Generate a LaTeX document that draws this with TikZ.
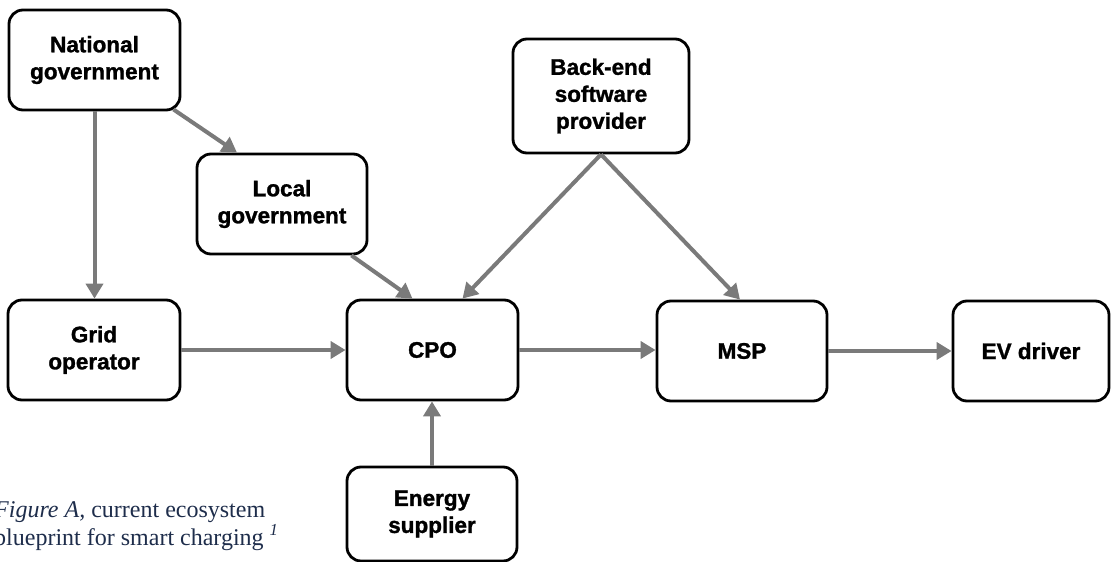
\documentclass[tikz,border=0pt]{standalone}
\usepackage{fontspec}
\setmainfont{Liberation Serif}
\newfontfamily\boxfont[BoldFeatures={FakeBold=1.3}]{Liberation Sans}
\usetikzlibrary{arrows.meta}
\definecolor{linkgray}{RGB}{122,122,122}
\definecolor{captionblue}{RGB}{30,45,75}

\begin{document}
\begin{tikzpicture}[x=1pt,y=-1pt,
  box/.style={draw=black, line width=2.8pt, rounded corners=14pt, fill=white,
    inner sep=0pt, align=center,
    font=\boxfont\bfseries\fontsize{22.5}{27}\selectfont},
  link/.style={draw=linkgray, line width=4pt,
    -{Triangle[length=15pt,width=17pt]}},
  caption/.style={anchor=base west, inner sep=0pt, text=captionblue,
    font=\fontsize{24}{28}\selectfont}]

\useasboundingbox (0,0) rectangle (1114,562);

% actors
\node[box, minimum width=171pt, minimum height=100pt] (ng)  at (94.5,60)  {National\\government};
\node[box, minimum width=170pt, minimum height=100pt] (lg)  at (282,204)  {Local\\government};
\node[box, minimum width=176pt, minimum height=114pt] (bes) at (601,96)   {Back-end\\software\\provider};
\node[box, minimum width=172pt, minimum height=100pt] (go)  at (94,350)   {Grid\\operator};
\node[box, minimum width=171pt, minimum height=100pt] (cpo) at (432.5,350) {CPO};
\node[box, minimum width=170pt, minimum height=100pt] (msp) at (742,351)  {MSP};
\node[box, minimum width=156pt, minimum height=100pt] (ev)  at (1031,351) {EV driver};
\node[box, minimum width=170pt, minimum height=94pt]  (es)  at (432,514)  {Energy\\supplier};

% relations
\draw[link] (ng.south) -- (ng.south |- go.north);
\draw[link] ([xshift=-8pt,yshift=2pt]ng.south east) -- ([xshift=-45pt]lg.north);
\draw[link] ([xshift=-17pt]lg.south east) -- ([xshift=-20pt]cpo.north);
\draw[link] (bes.south) -- ([xshift=30pt]cpo.north);
\draw[link] (bes.south) -- ([xshift=-2pt]msp.north);
\draw[link] (go.east |- cpo.west) -- (cpo.west);
\draw[link] (cpo.east) -- (cpo.east -| msp.west);
\draw[link] (msp.east) -- (msp.east -| ev.west);
\draw[link] (es.north) -- (es.north |- cpo.south);

% caption
\node[caption] (cap1) at (-6,517) {\textit{Figure A,} current ecosystem};
\node[caption] (cap2) at (-6,545) {blueprint for smart charging \textsuperscript{\textit{1}}};
\end{tikzpicture}
\end{document}
